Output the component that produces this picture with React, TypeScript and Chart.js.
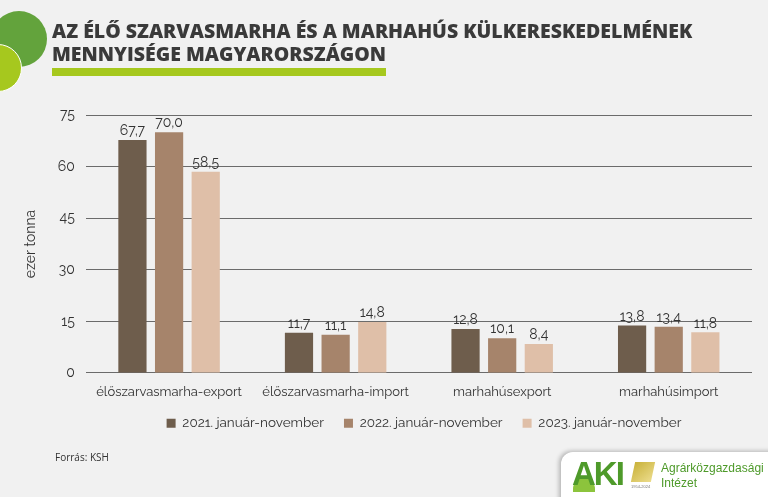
import React, { useEffect, useRef } from "react";
import { Chart, registerables } from "chart.js";

Chart.register(...registerables);

const categories = [
  "élőszarvasmarha-export",
  "élőszarvasmarha-import",
  "marhahúsexport",
  "marhahúsimport",
];
const seriesLabels = [
  "2021. január-november",
  "2022. január-november",
  "2023. január-november",
];
const values2021 = [67.7, 11.7, 12.8, 13.8];
const values2022 = [70.0, 11.1, 10.1, 13.4];
const values2023 = [58.5, 14.8, 8.4, 11.8];
const seriesColors = ["#6e5d4c", "#a6846b", "#dfbfa8"];
const yTicks = [0, 15, 30, 45, 60, 75];

const FONT = "Raleway, 'Open Sans', Lato, sans-serif";

const valueLabels = {
  id: "valueLabels",
  afterDatasetsDraw(chart: any) {
    const ctx = chart.ctx;
    ctx.save();
    ctx.font = `14px ${FONT}`;
    ctx.fillStyle = "#333333";
    ctx.textAlign = "center";
    ctx.textBaseline = "bottom";
    chart.data.datasets.forEach((ds: any, di: number) => {
      const meta = chart.getDatasetMeta(di);
      meta.data.forEach((bar: any, i: number) => {
        const v = ds.data[i] as number;
        ctx.fillText(v.toFixed(1).replace(".", ","), bar.x, bar.y - 2);
      });
    });
    ctx.restore();
  },
};

const legendShift = {
  id: "legendShift",
  beforeDraw(chart: any) {
    const lg = chart.legend;
    if (lg && !lg._shifted) {
      lg.left += 37;
      lg.right += 37;
      lg.top -= 6;
      lg.bottom -= 6;
      lg._shifted = true;
    }
  },
};

export default function App() {
  const ref = useRef<HTMLCanvasElement>(null);
  useEffect(() => {
    if (!ref.current) return;
    const data = [values2021, values2022, values2023];
    const chart = new Chart(ref.current, {
      type: "bar",
      data: {
        labels: categories,
        datasets: data.map((d, i) => ({
          label: seriesLabels[i],
          data: d,
          backgroundColor: seriesColors[i],
          categoryPercentage: 0.66,
          barPercentage: 0.77,
        })),
      },
      options: {
        animation: false,
        responsive: false,
        maintainAspectRatio: false,
        layout: { padding: { top: 115, left: 22, right: 16, bottom: 51 } },
        plugins: {
          legend: {
            position: "bottom",
            labels: {
              boxWidth: 9,
              boxHeight: 9,
              padding: 20,
              color: "#333333",
              font: { family: FONT, size: 13.5 },
            },
          },
          tooltip: { enabled: false },
          title: { display: false },
        },
        scales: {
          x: {
            grid: { display: false },
            border: { display: false },
            ticks: { color: "#333333", font: { family: FONT, size: 13 }, padding: 3 },
          },
          y: {
            min: 0,
            max: 75,
            afterBuildTicks: (axis: any) => {
              axis.ticks = yTicks.map((v) => ({ value: v }));
            },
            grid: { color: "#6b6b6b", lineWidth: 1, drawTicks: false },
            border: { display: false },
            ticks: { color: "#333333", font: { family: FONT, size: 14 }, padding: 11 },
            title: {
              display: true,
              text: "ezer tonna",
              color: "#333333",
              font: { family: FONT, size: 14 },
              padding: { top: 0, bottom: 8 },
            },
          },
        },
      },
      plugins: [valueLabels, legendShift],
    });
    return () => chart.destroy();
  }, []);

  return (
    <div
      style={{
        position: "fixed",
        left: 0,
        top: 0,
        width: 768,
        height: 497,
        background: "#f1f1f1",
        overflow: "hidden",
        fontFamily: FONT,
      }}
    >
      <canvas ref={ref} width={768} height={497} style={{ position: "absolute", left: 0, top: 0 }} />
      <div
        style={{
          position: "absolute",
          left: -9,
          top: 11,
          width: 56,
          height: 56,
          borderRadius: "50%",
          background: "#63a33c",
        }}
      />
      <div
        style={{
          position: "absolute",
          left: -26,
          top: 44,
          width: 46,
          height: 46,
          borderRadius: "50%",
          background: "#a6c81e",
          border: "1.5px solid #ffffff",
        }}
      />
      <div
        style={{
          position: "absolute",
          left: 52,
          top: 19,
          fontFamily: "'Open Sans', sans-serif",
          fontWeight: 800,
          fontSize: 19.5,
          lineHeight: "23px",
          color: "#3a3a3a",
          whiteSpace: "nowrap",
        }}
      >
        AZ ÉLŐ SZARVASMARHA ÉS A MARHAHÚS KÜLKERESKEDELMÉNEK
        <br />
        MENNYISÉGE MAGYARORSZÁGON
      </div>
      <div
        style={{
          position: "absolute",
          left: 52,
          top: 68,
          width: 334,
          height: 8,
          background: "#a6c81e",
        }}
      />
      <div
        style={{
          position: "absolute",
          left: 55,
          top: 450,
          fontFamily: "'Open Sans', sans-serif",
          fontSize: 10,
          color: "#333333",
        }}
      >
        Forrás: KSH
      </div>
      <div
        style={{
          position: "absolute",
          left: 561,
          top: 452,
          width: 230,
          height: 60,
          background: "#ffffff",
          borderRadius: 12,
          boxShadow: "-2px -1px 4px rgba(0,0,0,0.25)",
        }}
      />
      <div
        style={{
          position: "absolute",
          left: 573,
          top: 478,
          width: 22,
          height: 14,
          borderRadius: "11px 11px 0 0",
          background: "#8cc43c",
        }}
      />
      <div
        style={{
          position: "absolute",
          left: 572,
          top: 457,
          fontFamily: "Arial, 'Liberation Sans', sans-serif",
          fontWeight: 900,
          fontSize: 33,
          lineHeight: "34px",
          color: "#4e9a2a",
          letterSpacing: -2,
        }}
      >
        AKI
      </div>
      <div
        style={{
          position: "absolute",
          left: 633,
          top: 462,
          width: 20,
          height: 20,
          background: "linear-gradient(135deg, #c9b23a, #ecdc8c)",
          transform: "skewX(-12deg)",
        }}
      />
      <div
        style={{
          position: "absolute",
          left: 631,
          top: 484,
          fontFamily: "'Liberation Sans', Arial, sans-serif",
          fontSize: 4,
          color: "#777777",
        }}
      >
        1954-2024
      </div>
      <div
        style={{
          position: "absolute",
          left: 661,
          top: 461,
          fontFamily: "'Liberation Sans', Arial, sans-serif",
          fontSize: 12,
          lineHeight: "15px",
          color: "#4e9a2a",
        }}
      >
        Agrárközgazdasági
        <br />
        Intézet
      </div>
    </div>
  );
}
